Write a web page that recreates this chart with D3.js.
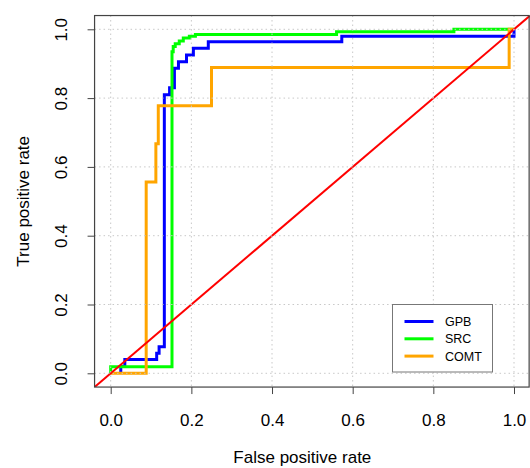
<!DOCTYPE html>
<html>
<head>
<meta charset="utf-8">
<script src="https://cdn.jsdelivr.net/npm/d3@7"></script>
<style>
  body { margin: 0; background: #fff; }
  text { font-family: "Liberation Sans", Arial, Helvetica, sans-serif; fill: #000; }
</style>
</head>
<body>
<div id="chart"></div>
<script>
// ROC curves as [fpr, tpr] step points
var gpb = [
  [0.025, 0.0], [0.025, 0.02], [0.035, 0.02], [0.035, 0.04], [0.114, 0.04],
  [0.114, 0.058], [0.12, 0.058], [0.12, 0.077], [0.133, 0.077], [0.133, 0.81],
  [0.146, 0.81], [0.146, 0.83], [0.158, 0.83], [0.158, 0.887], [0.168, 0.887],
  [0.168, 0.906], [0.188, 0.906], [0.188, 0.925], [0.205, 0.925], [0.205, 0.945],
  [0.242, 0.945], [0.242, 0.964], [0.573, 0.964], [0.573, 0.98], [1.0, 0.98], [1.0, 1.0]
]
var src = [
  [0.0, 0.0], [0.0, 0.019], [0.152, 0.019], [0.152, 0.935], [0.155, 0.935],
  [0.155, 0.95], [0.16, 0.95], [0.16, 0.958], [0.17, 0.958], [0.17, 0.966],
  [0.18, 0.966], [0.18, 0.975], [0.195, 0.975], [0.195, 0.98], [0.21, 0.98],
  [0.21, 0.985], [0.56, 0.985], [0.56, 0.993], [0.851, 0.993], [0.851, 1.0], [1.0, 1.0]
]
var comt = [
  [0.0, 0.0], [0.088, 0.0], [0.088, 0.556], [0.112, 0.556], [0.112, 0.667],
  [0.118, 0.667], [0.118, 0.778], [0.25, 0.778], [0.25, 0.889], [0.988, 0.889],
  [0.988, 1.0], [1.0, 1.0]
]

var seriesNames = ['GPB', 'SRC', 'COMT']
var seriesColors = ['#0000ff', '#00ff00', '#ffa500']
var seriesData = [gpb, src, comt]
var ticks = [0, 0.2, 0.4, 0.6, 0.8, 1.0]

var W = 530, H = 468

var svg = d3.select('#chart').append('svg')
  .attr('width', W).attr('height', H)

var x = d3.scaleLinear().domain([0, 1]).range([110.7, 514])
var y = d3.scaleLinear().domain([0, 1]).range([373.3, 29.3])

// plot region, R style 4% extension
var x0 = x(-0.04), x1 = x(1.04), y0 = y(-0.04), y1 = y(1.04)

svg.append('clipPath').attr('id', 'plotclip')
  .append('rect')
  .attr('x', x0).attr('y', y1).attr('width', x1 - x0).attr('height', y0 - y1)

var plot = svg.append('g').attr('clip-path', 'url(#plotclip)')

var line = d3.line().x(d => x(d[0])).y(d => y(d[1]))

seriesData.forEach(function(d, i){
  plot.append('path')
    .attr('d', line(d))
    .attr('fill', 'none')
    .attr('stroke', seriesColors[i])
    .attr('stroke-width', 3)
    .attr('stroke-linejoin', 'miter')
})

// diagonal reference line
plot.append('path')
  .attr('d', line([[-0.04, -0.04], [1.04, 1.04]]))
  .attr('stroke', '#ff0000')
  .attr('stroke-width', 2)
  .attr('fill', 'none')

// dotted grid, drawn after the curves like grid() in R
var grid = plot.append('g')
  .attr('stroke', '#c8c8c8')
  .attr('stroke-width', 1)
  .attr('stroke-dasharray', '1.5,3')

grid.selectAll('.gx').data(ticks).join('line')
  .attr('x1', d => x(d)).attr('x2', d => x(d))
  .attr('y1', y1).attr('y2', y0)

grid.selectAll('.gy').data(ticks).join('line')
  .attr('y1', d => y(d)).attr('y2', d => y(d))
  .attr('x1', x0).attr('x2', x1)

// box
svg.append('rect')
  .attr('x', x0).attr('y', y1)
  .attr('width', x1 - x0 - 1).attr('height', y0 - y1)
  .attr('fill', 'none').attr('stroke', '#444').attr('stroke-width', 1.2)

// axes
var xAxis = d3.axisBottom(x).tickValues(ticks).tickFormat(d3.format('.1f')).tickSize(7).tickPadding(22)
var xg = svg.append('g').attr('transform', 'translate(0,' + y0 + ')').call(xAxis)
xg.select('.domain').remove()
xg.selectAll('line').attr('stroke', '#444')
xg.selectAll('text').attr('font-size', 17).attr('font-family', null).attr('dy', null).attr('y', 39)

var yAxis = d3.axisLeft(y).tickValues(ticks).tickFormat(d3.format('.1f')).tickSize(7)
var yg = svg.append('g').attr('transform', 'translate(' + x0 + ',0)').call(yAxis)
yg.select('.domain').remove()
yg.selectAll('line').attr('stroke', '#444')
yg.selectAll('text')
  .attr('font-size', 17).attr('font-family', null)
  .attr('x', null).attr('dy', null)
  .attr('text-anchor', 'middle')
  .attr('transform', 'translate(' + (67 - x0) + ',0) rotate(-90)')

svg.append('text')
  .attr('x', (x0 + x1) / 2 - 10).attr('y', 463)
  .attr('text-anchor', 'middle').attr('font-size', 17)
  .text('False positive rate')

svg.append('text')
  .attr('transform', 'translate(29,' + ((y0 + y1) / 2) + ') rotate(-90)')
  .attr('text-anchor', 'middle').attr('font-size', 17)
  .text('True positive rate')

// legend
var leg = svg.append('g')
leg.append('rect')
  .attr('x', 392.5).attr('y', 304.5).attr('width', 100).attr('height', 67.5)
  .attr('fill', '#fff').attr('stroke', '#777').attr('stroke-width', 1)

seriesNames.forEach(function(name, i){
  var ly = 321.5 + i * 17.3
  leg.append('line')
    .attr('x1', 404.5).attr('x2', 433.5).attr('y1', ly).attr('y2', ly)
    .attr('stroke', seriesColors[i]).attr('stroke-width', 3)
  leg.append('text')
    .attr('x', 445).attr('y', ly + 4.5)
    .attr('font-size', 12.5)
    .text(name)
})
</script>
</body>
</html>
